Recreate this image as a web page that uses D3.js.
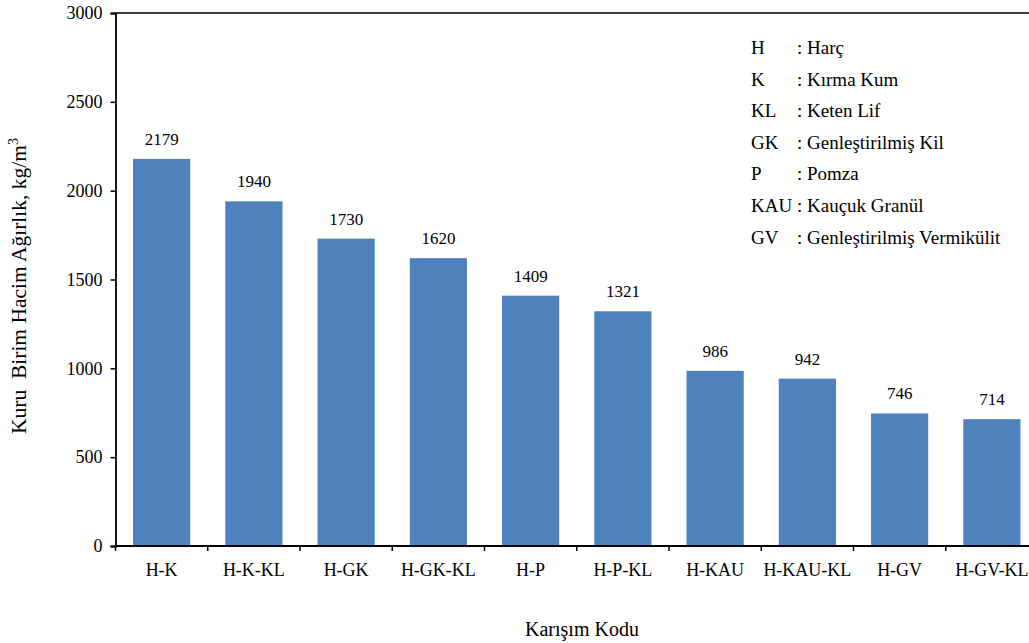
<!DOCTYPE html>
<html><head><meta charset="utf-8">
<script src="https://cdn.jsdelivr.net/npm/d3@7"></script>
<style>body{margin:0;background:#fff}svg{display:block}svg text{font-family:"Liberation Serif","Times New Roman",serif !important;fill:#000}</style>
</head><body><svg id="c" width="1029" height="643" font-family="Liberation Serif"></svg>
<script>
const categories = ["H-K","H-K-KL","H-GK","H-GK-KL","H-P","H-P-KL","H-KAU","H-KAU-KL","H-GV","H-GV-KL"];
const values = [2179,1940,1730,1620,1409,1321,986,942,746,714];
const yTicks = [0,500,1000,1500,2000,2500,3000];
const legendCodes = ["H","K","KL","GK","P","KAU","GV"];
const legendNames = [": Harç",": Kırma Kum",": Keten Lif",": Genleştirilmiş Kil",": Pomza",": Kauçuk Granül",": Genleştirilmiş Vermikülit"];

const svg = d3.select("#c");
const L = 115.5, R = 1038, T = 13, B = 546;
const x = d3.scaleBand().domain(categories).range([L, R]).paddingInner(0.38).paddingOuter(0.19);
const y = d3.scaleLinear().domain([0, 3000]).range([B, T]);

// bars
svg.append("g").selectAll("rect").data(values).join("rect")
  .attr("x", (d,i)=>x(categories[i])).attr("width", x.bandwidth())
  .attr("y", d=>y(d)).attr("height", d=>y(0)-y(d)).attr("fill", "#4F81BD");

// value labels
svg.append("g").selectAll("text").data(values).join("text")
  .attr("x", (d,i)=>x(categories[i])+x.bandwidth()/2).attr("y", d=>y(d)-14)
  .attr("text-anchor","middle").attr("font-size",17).text(d=>d);

// top line
svg.append("line").attr("x1", L).attr("x2", 1029).attr("y1", y(3000)).attr("y2", y(3000))
  .attr("stroke","#000").attr("stroke-width",1.5);

// y axis
const ya = svg.append("g").attr("transform",`translate(${L},0)`)
  .call(d3.axisLeft(y).tickValues(yTicks).tickSize(5).tickPadding(8).tickFormat(d3.format("d")));
ya.attr("font-family","Liberation Serif");
ya.select(".domain").attr("stroke-width",1.8);
ya.selectAll("line").attr("stroke-width",1.5);
ya.selectAll("text").attr("font-size",18);

// x axis with ticks at band boundaries
const step = x.step();
const bounds = d3.range(categories.length+1).map(i=>L + i*step);
const xg = svg.append("g");
xg.append("line").attr("x1", L).attr("x2", 1029).attr("y1", B).attr("y2", B).attr("stroke","#000").attr("stroke-width",1.8);
xg.selectAll("line.t").data(bounds.filter(b=>b<1029)).join("line").attr("class","t")
  .attr("x1", d=>d).attr("x2", d=>d).attr("y1", B).attr("y2", B+5).attr("stroke","#000").attr("stroke-width",1.5);
xg.selectAll("text").data(categories).join("text")
  .attr("x", d=>x(d)+x.bandwidth()/2).attr("y", B+30)
  .attr("text-anchor","middle").attr("font-size",18).text(d=>d);

// axis titles
svg.append("text").attr("x", 582).attr("y", 636).attr("text-anchor","middle").attr("font-size",20).text("Karışım Kodu");
const yt = svg.append("text").attr("transform","translate(26,286) rotate(-90)").attr("text-anchor","middle").attr("font-size",21.5);
yt.append("tspan").text("Kuru\u00A0 Birim Hacim Ağırlık, kg/m");
yt.append("tspan").attr("dy",-8).attr("font-size",14).text("3");

// legend
const lg = svg.append("g");
lg.selectAll("text.c").data(legendCodes).join("text").attr("class","c")
  .attr("x", 751).attr("y", (d,i)=>54 + i*31.6).attr("font-size",19).text(d=>d);
lg.selectAll("text.n").data(legendNames).join("text").attr("class","n")
  .attr("x", 797).attr("y", (d,i)=>54 + i*31.6).attr("font-size",19).text(d=>d);
</script></body></html>
